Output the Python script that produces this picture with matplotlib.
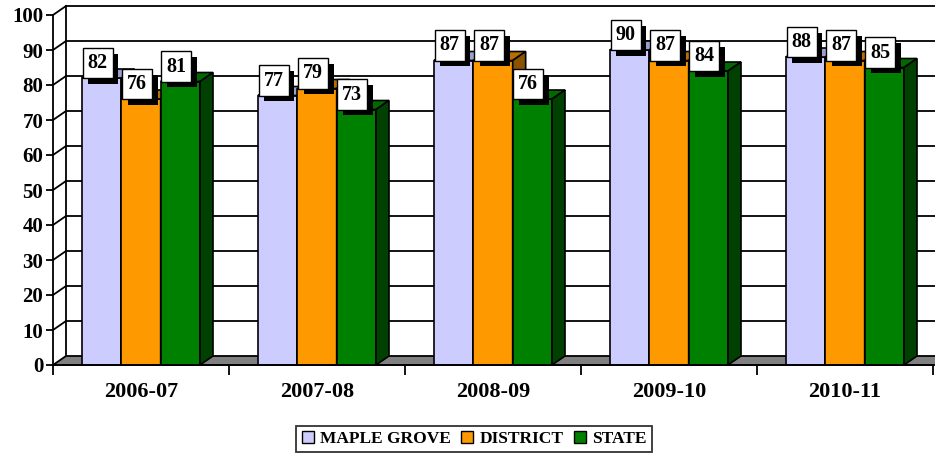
import matplotlib
matplotlib.use('Agg')
import matplotlib.pyplot as plt
from matplotlib.patches import Polygon, Rectangle, Patch
import matplotlib.patheffects as pe

# data ----------------------------------
years = ['2006-07', '2007-08', '2008-09', '2009-10', '2010-11']
maple_grove = [82, 77, 87, 90, 88]
district = [76, 79, 87, 87, 87]
state = [81, 73, 76, 84, 85]
series_names = ['MAPLE GROVE', 'DISTRICT', 'STATE']
y_ticks = [0, 10, 20, 30, 40, 50, 60, 70, 80, 90, 100]

# front, top, side colours for each series
face_colors = [('#CCCCFF', '#9E9ECC', '#8484B0'),
               ('#FF9900', '#B86E00', '#8A5300'),
               ('#008000', '#006A00', '#004000')]

plt.rcParams['font.family'] = ['Liberation Serif', 'DejaVu Serif']
plt.rcParams['font.weight'] = 'bold'

fig = plt.figure(figsize=(9.35, 4.55), dpi=100)
ax = fig.add_axes([53/935, 90/455, 880/935, 350/455])
ax.set_xlim(0, len(years))
ax.set_ylim(0, 100)
ax.patch.set_visible(False)

# 3d depth, 13 px right and 9 px up, in data units
dx = 13 * len(years) / 880
dy = 9 * 100 / 350
n = len(years)

# back wall, left wall and floor ----------------------------------
for y in y_ticks[1:]:
    ax.plot([dx, n + dx + 1], [y + dy, y + dy], color='black', lw=1.3,
            zorder=0.6, clip_on=False)
    ax.plot([0, dx], [y, y + dy], color='black', lw=1.3, zorder=0.6, clip_on=False)
ax.plot([dx, dx], [dy, 100 + dy], color='black', lw=1.3, zorder=0.6, clip_on=False)

floor = Polygon([(0, 0), (n + 1, 0), (n + 1 + dx, dy), (dx, dy)], closed=True,
                fc='#808080', ec='black', lw=1.3, zorder=0.8, clip_on=False)
ax.add_patch(floor)

# bars ----------------------------------
w = 0.2235
series = [maple_grove, district, state]
for i in range(n):
    for k, vals in enumerate(series):
        v = vals[i]
        x0 = i + 0.5 + (k - 1.5) * w
        front_c, top_c, side_c = face_colors[k]
        z = 1 + i * 0.1 + k * 0.01
        ax.add_patch(Rectangle((x0, 0), w, v, fc=front_c, ec='black', lw=1.2, zorder=z))
        ax.add_patch(Polygon([(x0, v), (x0 + w, v), (x0 + w + dx, v + dy), (x0 + dx, v + dy)],
                             closed=True, fc=top_c, ec='black', lw=1.2, zorder=z))
        ax.add_patch(Polygon([(x0 + w, 0), (x0 + w + dx, dy), (x0 + w + dx, v + dy), (x0 + w, v)],
                             closed=True, fc=side_c, ec='black', lw=1.2, zorder=z))

# value labels ----------------------------------
for i in range(n):
    for k, vals in enumerate(series):
        v = vals[i]
        xc = i + 0.5 + (k - 1) * w
        t = ax.annotate(str(v), (xc, v), xytext=(-4, 15), textcoords='offset pixels',
                        ha='center', va='center', fontsize=14.5, fontweight='bold',
                        zorder=5,
                        bbox=dict(boxstyle='square,pad=0.25', fc='white', ec='black', lw=1))
        t.get_bbox_patch().set_path_effects([
            pe.SimplePatchShadow(offset=(4, -4), shadow_rgbFace='black', alpha=1),
            pe.Normal()])

# axes ----------------------------------
for s in ['top', 'right']:
    ax.spines[s].set_visible(False)
ax.spines['left'].set_linewidth(1.3)
ax.spines['bottom'].set_linewidth(1.3)
ax.spines['left'].set_zorder(3)
ax.spines['bottom'].set_zorder(3)

ax.set_yticks(y_ticks)
ax.set_yticklabels([str(t) for t in y_ticks], fontsize=15, fontweight='bold')
ax.tick_params(axis='y', direction='out', length=5, width=1.3, pad=2)

ax.set_xticks(range(n + 1))
ax.set_xticklabels([])
ax.tick_params(axis='x', which='major', direction='out', length=7, width=1.3)
ax.set_xticks([i + 0.5 for i in range(n)], minor=True)
ax.set_xticklabels(years, minor=True, fontsize=16, fontweight='bold')
ax.tick_params(axis='x', which='minor', length=0, pad=12)

# legend ----------------------------------
handles = [Patch(fc=c[0], ec='black', lw=1) for c in face_colors]
leg = fig.legend(handles, series_names, loc='center', bbox_to_anchor=(474/935, 16/455),
                 ncol=3, frameon=True, fancybox=False, edgecolor='black',
                 fontsize=12.5, handlelength=0.7, handleheight=0.7, handletextpad=0.35,
                 columnspacing=0.6, borderpad=0.3, borderaxespad=0)
leg.get_frame().set_linewidth(1.3)
for t in leg.get_texts():
    t.set_fontweight('bold')

fig.savefig('out.png', dpi=100)
